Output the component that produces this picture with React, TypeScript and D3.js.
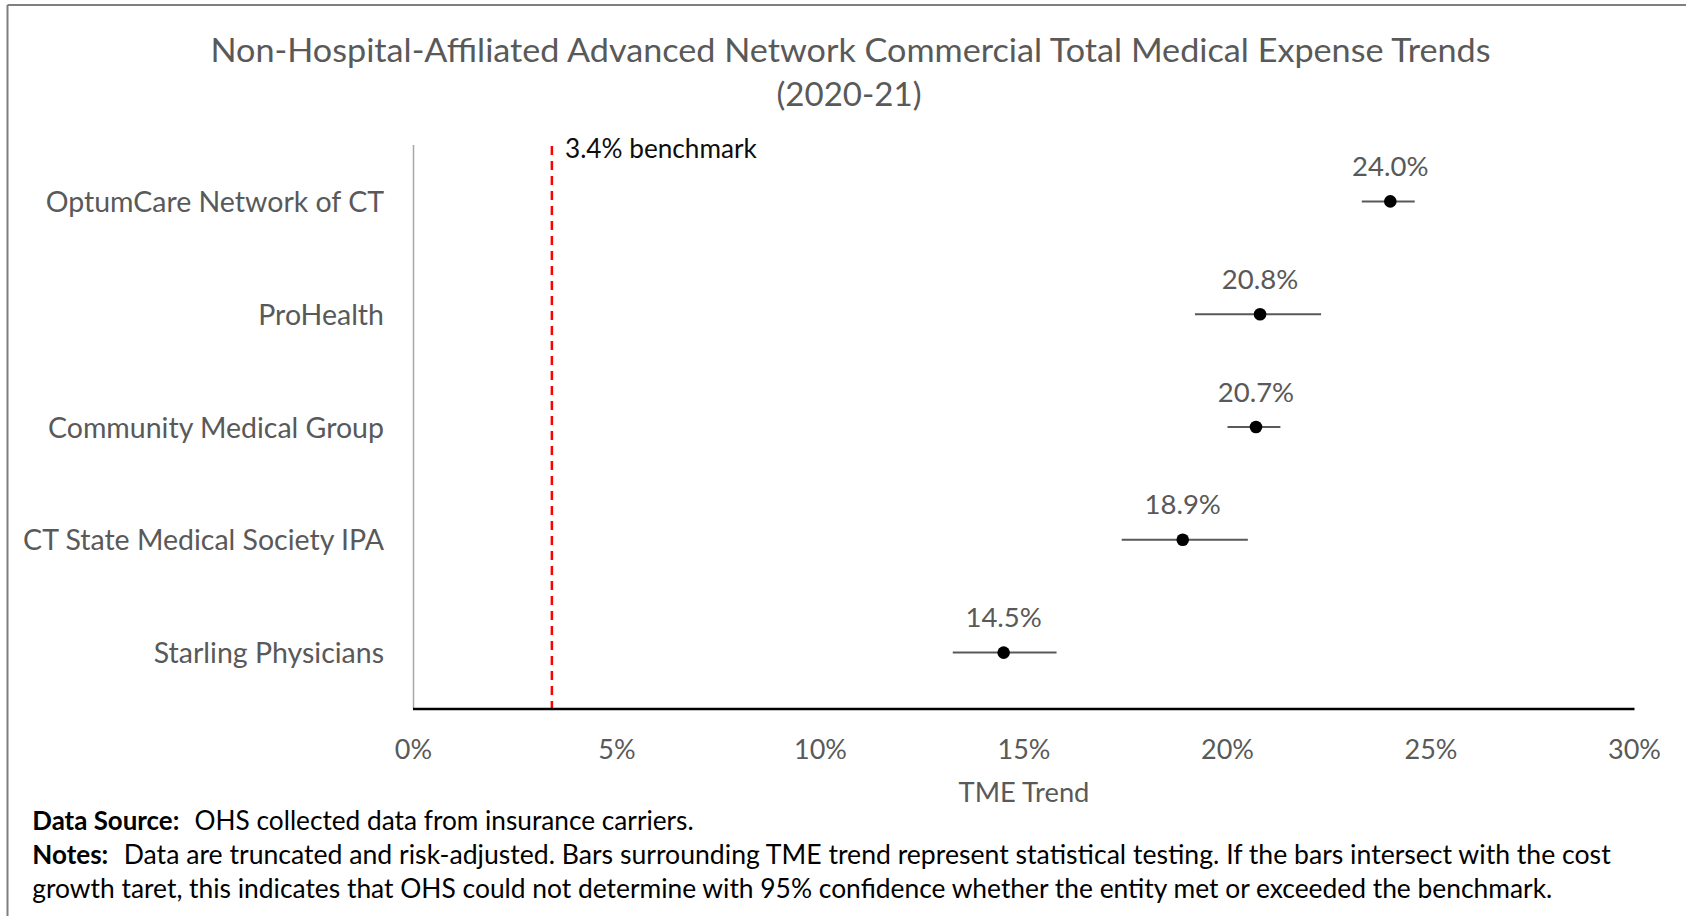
import React from "react";
import * as d3 from "d3";

const categories = [
  "OptumCare Network of CT",
  "ProHealth",
  "Community Medical Group",
  "CT State Medical Society IPA",
  "Starling Physicians",
];
const trendValues = [24.0, 20.8, 20.7, 18.9, 14.5];
const lowerBounds = [23.3, 19.2, 20.0, 17.4, 13.25];
const upperBounds = [24.6, 22.3, 21.3, 20.5, 15.8];
const xTicks = [0, 5, 10, 15, 20, 25, 30];
const benchmark = 3.4;

const titleLines = [
  "Non-Hospital-Affiliated Advanced Network Commercial Total Medical Expense Trends",
  "(2020-21)",
];
const xAxisTitle = "TME Trend";
const benchmarkLabel = "3.4% benchmark";

const W = 1686;
const H = 916;
const FONT = "Lato, 'Open Sans', sans-serif";
const GRAY = "#595959";

export default function App() {
  const x = d3.scaleLinear().domain([0, 30]).range([413.5, 1634.5]);
  const y = d3.scaleBand<string>().domain(categories).range([145, 709]);
  const yc = (c: string) => (y(c) as number) + y.bandwidth() / 2;
  const fmt = (v: number) => `${v.toFixed(1)}%`;

  return (
    <svg
      width={W}
      height={H}
      style={{ position: "absolute", left: 0, top: 0, display: "block", background: "#fff" }}
      fontFamily={FONT}
    >
      <rect x={0} y={0} width={W} height={H} fill="#fff" />
      {/* outer border (top & left visible) */}
      <line x1={7.5} x2={W} y1={5} y2={5} stroke="#7f7f7f" strokeWidth={2} />
      <line x1={7.5} x2={7.5} y1={5} y2={H} stroke="#7f7f7f" strokeWidth={2} />

      {/* title */}
      <text x={850.5} y={61.7} textAnchor="middle" fontSize={32.5} fill={GRAY} textLength={1280} lengthAdjust="spacingAndGlyphs">
        {titleLines[0]}
      </text>
      <text x={849} y={105.5} textAnchor="middle" fontSize={32.5} fill={GRAY} textLength={145} lengthAdjust="spacingAndGlyphs">
        {titleLines[1]}
      </text>

      {/* y axis line */}
      <line x1={x(0)} x2={x(0)} y1={145} y2={709} stroke="#a6a6a6" strokeWidth={1.5} />

      {/* benchmark */}
      <line
        x1={x(benchmark)}
        x2={x(benchmark)}
        y1={146}
        y2={709}
        stroke="#ff0000"
        strokeWidth={2.5}
        strokeDasharray="9 6"
      />
      <text x={565} y={158} fontSize={26.2} fill="#0d0d0d">
        {benchmarkLabel}
      </text>

      {/* x axis line */}
      <line x1={x(0) - 0.5} x2={x(30)} y1={709} y2={709} stroke="#000" strokeWidth={2.6} />

      {/* category labels */}
      {categories.map((c) => (
        <text key={c} x={384} y={yc(c) + 10.6} textAnchor="end" fontSize={28.5} fill={GRAY}>
          {c}
        </text>
      ))}

      {/* error bars, points, value labels */}
      {categories.map((c, i) => (
        <g key={c}>
          <line
            x1={x(lowerBounds[i])}
            x2={x(upperBounds[i])}
            y1={yc(c)}
            y2={yc(c)}
            stroke={GRAY}
            strokeWidth={2}
          />
          <circle cx={x(trendValues[i])} cy={yc(c)} r={6.3} fill="#000" />
          <text x={x(trendValues[i])} y={yc(c) - 25.5} textAnchor="middle" fontSize={27.5} fill={GRAY}>
            {fmt(trendValues[i])}
          </text>
        </g>
      ))}

      {/* x tick labels */}
      {xTicks.map((t) => (
        <text key={t} x={x(t)} y={759} textAnchor="middle" fontSize={27} fill={GRAY}>
          {`${t}%`}
        </text>
      ))}
      <text x={(x(0) + x(30)) / 2} y={801.7} textAnchor="middle" fontSize={27.3} fill={GRAY}>
        {xAxisTitle}
      </text>

      {/* footnotes */}
      <text x={32.3} y={830} fontSize={26} fontWeight="bold" fill="#000" textLength={147} lengthAdjust="spacingAndGlyphs">
        Data Source:
      </text>
      <text x={194.6} y={830} fontSize={26} fill="#000" textLength={499} lengthAdjust="spacingAndGlyphs">
        OHS collected data from insurance carriers.
      </text>
      <text x={32.3} y={864} fontSize={26} fontWeight="bold" fill="#000" textLength={76} lengthAdjust="spacingAndGlyphs">
        Notes:
      </text>
      <text x={123.7} y={864} fontSize={26} fill="#000" textLength={1487} lengthAdjust="spacingAndGlyphs">
        Data are truncated and risk-adjusted.  Bars surrounding TME trend represent statistical testing.  If the bars intersect with the cost
      </text>
      <text x={32.3} y={898} fontSize={26} fill="#000" textLength={1520} lengthAdjust="spacingAndGlyphs">
        growth taret, this indicates that OHS could not determine with 95% confidence whether the entity met or exceeded the benchmark.
      </text>
    </svg>
  );
}
